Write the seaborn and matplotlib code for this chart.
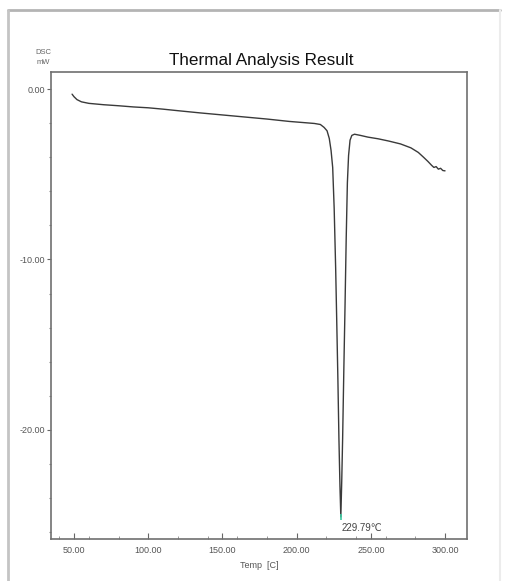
import matplotlib
matplotlib.use("Agg")
import matplotlib.pyplot as plt
from matplotlib.ticker import MultipleLocator, FormatStrFormatter
from matplotlib.lines import Line2D
import seaborn as sns
import pandas as pd

# DSC trace: temperature [C] and heat flow [mW]
temperature = [
    48.7, 50.0, 52.0, 55.0, 60.0, 70.0, 80.0, 90.0, 100.0, 110.0, 120.0,
    135.0, 150.0, 165.0, 180.0, 195.0, 205.0, 212.0, 216.0, 218.5, 220.5,
    222.0, 223.2, 224.3, 225.3, 226.3, 227.0, 227.8, 228.5, 229.2, 229.79,
    230.4, 231.0, 231.8, 232.6, 233.4, 234.2, 235.0, 236.0, 237.2, 239.0,
    243.0, 248.0, 255.0, 262.0, 270.0, 277.0, 282.0, 285.5, 288.5, 291.0,
    292.5, 294.0, 295.5, 297.0, 298.5, 300.0,
]
dsc = [
    -0.30, -0.45, -0.62, -0.75, -0.84, -0.92, -0.98, -1.05, -1.10, -1.18, -1.27,
    -1.40, -1.52, -1.64, -1.76, -1.90, -1.97, -2.02, -2.08, -2.25, -2.45,
    -2.90, -3.60, -4.60, -7.00, -10.50, -13.50, -17.00, -20.50, -23.30, -25.10,
    -23.00, -20.50, -16.50, -12.80, -8.80, -5.50, -3.90, -3.00, -2.72, -2.65,
    -2.72, -2.82, -2.92, -3.05, -3.22, -3.45, -3.72, -4.00, -4.25, -4.48,
    -4.60, -4.55, -4.70, -4.65, -4.78, -4.80,
]
peak_temp = 229.79
peak_dsc = -25.10
peak_label = "229.79\u2103"

x_ticks = [50, 100, 150, 200, 250, 300]
y_ticks = [0, -10, -20]

df = pd.DataFrame({"Temp": temperature, "DSC": dsc})

sns.set_theme(style="white")
plt.rcParams["font.family"] = ["Liberation Sans", "DejaVu Sans"]

fig = plt.figure(figsize=(5.07, 5.81), dpi=100)
ax = fig.add_axes([51 / 507, 1 - 539 / 581, (467 - 51) / 507, (539 - 72) / 581])

sns.lineplot(data=df, x="Temp", y="DSC", ax=ax, sort=False, estimator=None,
             color="#3a3a3a", linewidth=1.0)
ax.plot([peak_temp], [peak_dsc], marker="|", markersize=5, color="#3cc8a0", mew=1.2)
ax.text(peak_temp + 0.3, peak_dsc - 0.35, peak_label, fontsize=7, color="#444444",
        va="top", ha="left")

ax.set_xlim(34.5, 314.8)
ax.set_ylim(-26.4, 1.0)
ax.set_xticks(x_ticks)
ax.set_yticks(y_ticks)
ax.xaxis.set_major_formatter(FormatStrFormatter("%.2f"))
ax.yaxis.set_major_formatter(FormatStrFormatter("%.2f"))
ax.xaxis.set_minor_locator(MultipleLocator(20))
ax.yaxis.set_minor_locator(MultipleLocator(2))
ax.tick_params(axis="x", which="major", direction="in", length=4, width=0.8,
               color="#666666", labelsize=6.5, labelcolor="#555555", pad=5, bottom=True)
ax.tick_params(axis="x", which="minor", direction="in", length=2, width=0.6,
               color="#888888", bottom=True)
ax.tick_params(axis="y", which="major", direction="out", length=3, width=0.8,
               color="#666666", labelsize=6.5, labelcolor="#555555", pad=1, left=True)
ax.tick_params(axis="y", which="minor", direction="out", length=1.2, width=0.8,
               color="#888888", left=True)

for side in ["left", "right", "top", "bottom"]:
    ax.spines[side].set_color("#707070")
    ax.spines[side].set_linewidth(1.2)

ax.set_xlabel("Temp  [C]", fontsize=6.5, color="#555555", labelpad=4)
ax.set_ylabel("")
ax.set_title("")

fig.text(261 / 507, 1 - 60 / 581, "Thermal Analysis Result", ha="center", va="center",
         fontsize=12.3, color="#111111")
fig.text(43 / 507, 1 - 52 / 581, "DSC", ha="center", va="center", fontsize=5.5, color="#666666")
fig.text(43 / 507, 1 - 63 / 581, "mW", ha="center", va="center", fontsize=5.5, color="#666666")

# window border around the chart
fig.add_artist(Line2D([8 / 507, 500 / 507], [1 - 10 / 581, 1 - 10 / 581],
                      transform=fig.transFigure, color="#b4b4b4", linewidth=2))
fig.add_artist(Line2D([8 / 507, 8 / 507], [0, 1 - 10 / 581],
                      transform=fig.transFigure, color="#c4c4c4", linewidth=2))
fig.add_artist(Line2D([500 / 507, 500 / 507], [0, 1 - 10 / 581],
                      transform=fig.transFigure, color="#ececec", linewidth=1.5))

fig.savefig("out.png", dpi=100)
